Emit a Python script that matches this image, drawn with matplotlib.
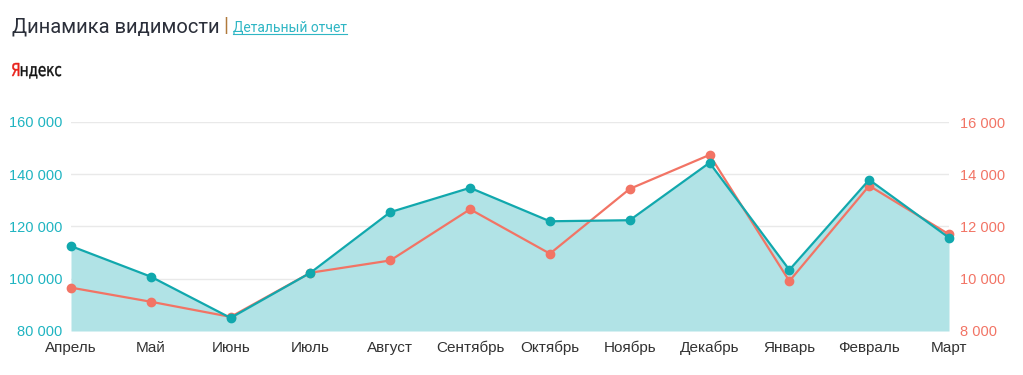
import matplotlib
matplotlib.use("Agg")
import matplotlib.pyplot as plt
from matplotlib.ticker import FuncFormatter
from matplotlib.lines import Line2D
from matplotlib.textpath import TextPath
from matplotlib.patches import PathPatch
from matplotlib.font_manager import FontProperties
from matplotlib.transforms import Affine2D

months = ["Апрель", "Май", "Июнь", "Июль", "Август", "Сентябрь", "Октябрь",
          "Ноябрь", "Декабрь", "Январь", "Февраль", "Март"]
visibility = [112500, 100800, 85000, 102300, 125500, 134800, 122000,
              122400, 144400, 103400, 137900, 115700]
visits = [9660, 9120, 8540, 10230, 10700, 12660, 10960,
          13440, 14740, 9910, 13560, 11700]

TEAL = "#11a8ad"
FILL = "#b1e3e6"
RED = "#f27465"
LEFT_TXT = "#1fb4c1"

W, H = 1023, 375
fig = plt.figure(figsize=(W / 100, H / 100), dpi=100)
ax = fig.add_axes([71 / W, 44 / H, 878 / W, 209 / H])   # fill + left ticks
ax2 = ax.twinx()                                          # red series
ax3 = ax.twinx()                                          # teal line on top

x = list(range(len(months)))
for v in [100000, 120000, 140000, 160000]:
    ax.axhline(v, color="#e9e9e9", lw=1, zorder=0)
ax.fill_between(x, visibility, 80000, color=FILL, lw=0, zorder=1)
ax2.plot(x, visits, color=RED, lw=1.6, marker="o", ms=6, clip_on=False)
ax3.plot(x, visibility, color=TEAL, lw=1.6, marker="o", ms=6, clip_on=False)

ax.set_xlim(0, len(months) - 1)
ax.set_ylim(80000, 160000)
ax3.set_ylim(80000, 160000)
ax2.set_ylim(8000, 16000)
ax.set_yticks([80000, 100000, 120000, 140000, 160000])
ax2.set_yticks([8000, 10000, 12000, 14000, 16000])
ax3.set_yticks([])
fmt = FuncFormatter(lambda v, p: f"{int(v):,}".replace(",", " "))
ax.yaxis.set_major_formatter(fmt)
ax2.yaxis.set_major_formatter(fmt)
ax.set_xticks(x)
ax.set_xticklabels(months)

for a in (ax, ax2, ax3):
    for s in a.spines.values():
        s.set_visible(False)
    a.tick_params(length=0)

ax.tick_params(axis="y", colors=LEFT_TXT, labelsize=10.5, pad=6)
ax2.tick_params(axis="y", colors=RED, labelsize=10.5, pad=8)
ax.tick_params(axis="x", colors="#333333", labelsize=11, pad=7)
for lab in ax.get_yticklabels() + ax2.get_yticklabels() + ax.get_xticklabels():
    lab.set_family("Liberation Sans")

# header
fig.canvas.draw()
r = fig.canvas.get_renderer()
t1 = fig.text(12 / W, 1 - 27 / H, "Динамика видимости", fontsize=14.5,
              family="Roboto", fontweight="normal", color="#2b2f3a", va="center")
bb = t1.get_window_extent(r)
t2 = fig.text((bb.x1 + 4) / W, 1 - 26 / H, "|", fontsize=14.5, family="Roboto",
              color="#b07a3c", va="center")
bb2 = t2.get_window_extent(r)
t3 = fig.text((bb2.x1 + 4) / W, 1 - 28 / H, "Детальный отчет", fontsize=10,
              family="Roboto", color="#2fb6c4", va="center")
bb3 = t3.get_window_extent(r)
fig.add_artist(Line2D([bb3.x0 / W, bb3.x1 / W], [(bb3.y0 + 1) / H] * 2,
                      color="#2fb6c4", lw=0.8))

# Yandex logo: text squeezed into its box
fp = FontProperties(family="DejaVu Sans", weight="normal")
p1 = TextPath((0, 0), "Я", size=100, prop=fp)
e1 = p1.get_extents()
p2 = TextPath((e1.x1 + 4, 0), "ндекс", size=100, prop=fp)
e2 = p2.get_extents()
sx = (61 - 12) / (e2.x1 - e1.x0)
sy = 13 / e1.y1
tr = Affine2D().translate(-e1.x0, 0).scale(sx, sy).translate(12, H - 76)
for path, col in ((p1, "#e8221b"), (p2, "#111111")):
    fig.add_artist(PathPatch(path, transform=tr, facecolor=col,
                             edgecolor=col, lw=0.3))

fig.savefig("out.png", dpi=100)
